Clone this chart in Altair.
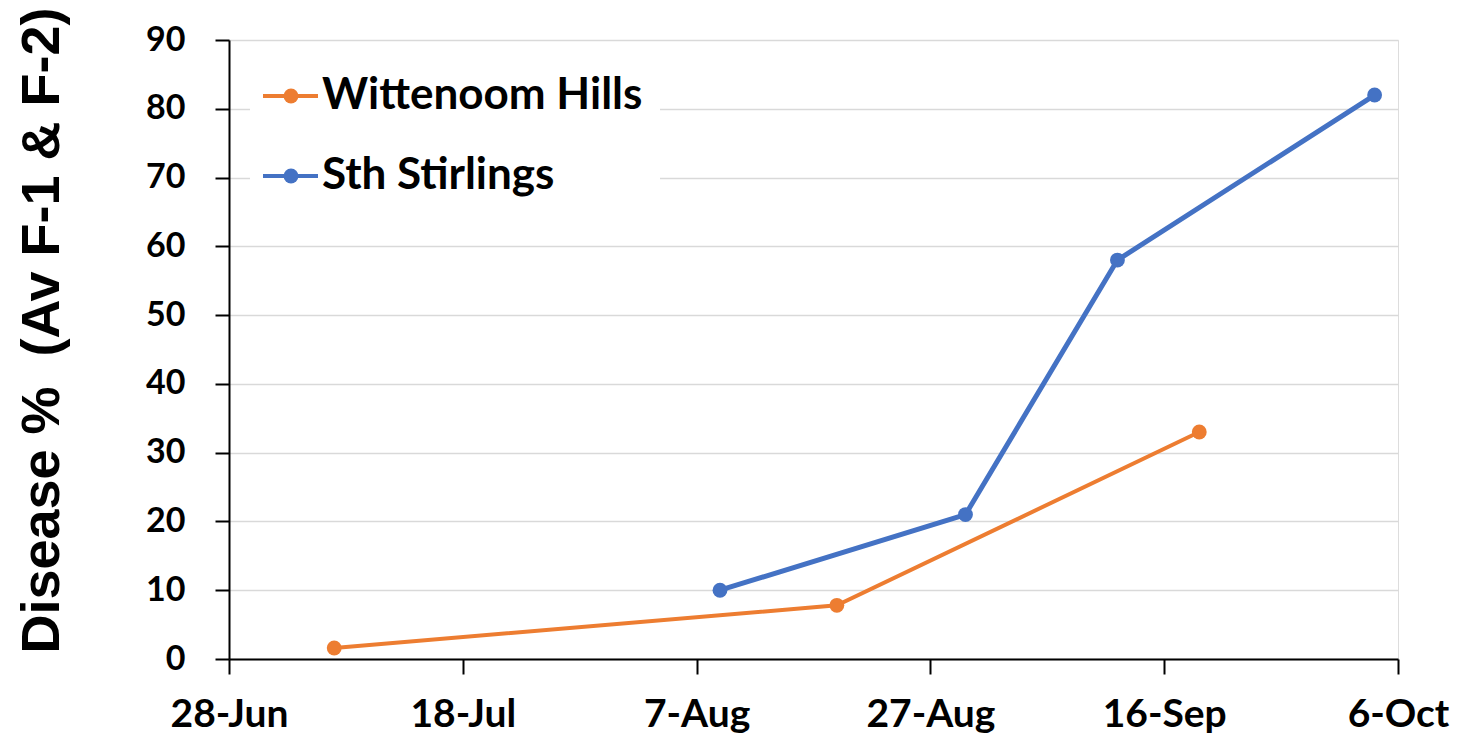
import altair as alt
import pandas as pd

series_names = ["Wittenoom Hills", "Sth Stirlings"]
series_colors = ["#ED7D31", "#4472C4"]

wh_dates = ["2021-07-07", "2021-08-19", "2021-09-19"]
wh_values = [1.6, 7.8, 33.0]

ss_dates = ["2021-08-09", "2021-08-30", "2021-09-12", "2021-10-04"]
ss_values = [10.0, 21.0, 58.0, 82.0]

x_tick_dates = [(2021, 6, 28), (2021, 7, 18), (2021, 8, 7), (2021, 8, 27), (2021, 9, 16), (2021, 10, 6)]
y_ticks = [0, 10, 20, 30, 40, 50, 60, 70, 80, 90]
y_title = "Disease %\u00a0\u00a0(Av F-1 & F-2)"

df = pd.DataFrame({
    "date": wh_dates + ss_dates,
    "value": wh_values + ss_values,
    "series": [series_names[0]] * len(wh_dates) + [series_names[1]] * len(ss_dates),
})

def dt(t):
    return alt.DateTime(year=t[0], month=t[1], date=t[2], utc=True)

LABEL_FONT = "Lato"

x_enc = alt.X(
    "date:T",
    scale=alt.Scale(type="utc", domain=[dt(x_tick_dates[0]), dt(x_tick_dates[-1])]),
    axis=alt.Axis(
        values=[dt(t) for t in x_tick_dates],
        format="%-d-%b",
        title=None,
        grid=False,
        domainColor="black",
        domainWidth=2,
        tickColor="black",
        tickWidth=2,
        tickSize=15,
        labelPadding=21,
        labelFont=LABEL_FONT,
        labelFontSize=39,
        labelFontWeight="bold",
        labelColor="black",
        labelOverlap=False,
        labelFlush=False,
    ),
)

y_enc = alt.Y(
    "value:Q",
    scale=alt.Scale(domain=[0, 90]),
    axis=alt.Axis(
        values=y_ticks,
        title=y_title,
        titleFont="Liberation Sans",
        titleFontSize=54,
        titleFontWeight="bold",
        titleColor="black",
        titleAngle=270,
        titleAlign="center",
        titleBaseline="alphabetic",
        titleX=-171,
        titleY=290,
        grid=True,
        gridColor="#d9d9d9",
        gridWidth=1.5,
        domainColor="black",
        domainWidth=2,
        tickColor="black",
        tickWidth=2,
        tickSize=14,
        labelPadding=30,
        labelFont=LABEL_FONT,
        labelFontSize=34,
        labelFontWeight="bold",
        labelColor="black",
    ),
)

color_enc = alt.Color(
    "series:N",
    scale=alt.Scale(domain=series_names, range=series_colors),
    legend=None,
)

base = alt.Chart(df)

lines = base.mark_line().encode(
    x=x_enc,
    y=y_enc,
    color=color_enc,
    strokeWidth=alt.StrokeWidth("series:N", scale=alt.Scale(domain=series_names, range=[4, 5]), legend=None),
)

points = base.mark_point(filled=True, size=220, opacity=1).encode(
    x=x_enc,
    y=y_enc,
    color=color_enc,
)

legend_box = alt.Chart(alt.Data(values=[{"k": 1}])).mark_rect(fill="white", stroke=None).encode(
    x=alt.value(21), x2=alt.value(431), y=alt.value(22), y2=alt.value(170)
)

legend_layers = [legend_box]
legend_y = [56, 136]
for name, col, yy in zip(series_names, series_colors, legend_y):
    d = alt.Data(values=[{"name": name}])
    legend_layers.append(
        alt.Chart(d).mark_rule(color=col, strokeWidth=4).encode(
            x=alt.value(34), x2=alt.value(89), y=alt.value(yy)
        )
    )
    legend_layers.append(
        alt.Chart(d).mark_point(filled=True, size=220, opacity=1, color=col).encode(
            x=alt.value(62), y=alt.value(yy)
        )
    )
    legend_layers.append(
        alt.Chart(d).mark_text(
            align="left", baseline="middle", font=LABEL_FONT, fontSize=44,
            fontWeight="bold", color="black"
        ).encode(x=alt.value(93), y=alt.value(yy), text="name:N")
    )

chart = alt.layer(*legend_layers, lines, points).properties(
    width=1169,
    height=619,
    autosize=alt.AutoSizeParams(type="none"),
    padding={"left": 221, "top": 32, "right": 54, "bottom": 77},
).configure_view(stroke=None).configure(background="white")

chart.save("out.html", embed_options={"renderer": "svg", "actions": False})
